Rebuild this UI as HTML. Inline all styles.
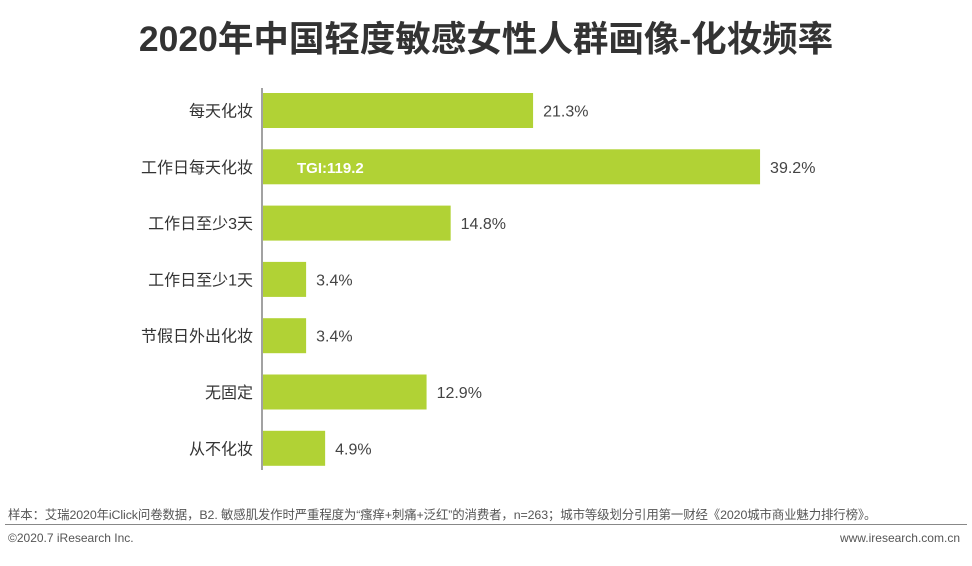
<!DOCTYPE html>
<html><head><meta charset="utf-8"><style>
body{margin:0;width:972px;height:566px;background:#fff;overflow:hidden;font-family:"Liberation Sans","Noto Sans CJK SC",sans-serif;}
#title{position:absolute;left:0;top:11px;width:972px;text-align:center;font-size:35.5px;font-weight:bold;color:#333;}
.note{position:absolute;font-size:11.5px;color:#555;}
</style></head><body>
<div id="title">2020年中国轻度敏感女性人群画像-化妆频率</div>
<svg id="chart" width="972" height="566" style="position:absolute;left:0;top:0"></svg>
<div class="note" style="left:8px;top:505px;font-size:12.4px;letter-spacing:-0.1px">样本：艾瑞2020年iClick问卷数据，B2. 敏感肌发作时严重程度为“瘙痒+刺痛+泛红”的消费者，n=263；城市等级划分引用第一财经《2020城市商业魅力排行榜》。</div>
<div style="position:absolute;left:5px;top:524px;width:962px;height:1px;background:#888"></div>
<div class="note" style="left:8px;top:531px;font-size:12px">©2020.7 iResearch Inc.</div>
<div class="note" style="right:12px;top:531px;font-size:12px">www.iresearch.com.cn</div>
<script>
const categories=["每天化妆","工作日每天化妆","工作日至少3天","工作日至少1天","节假日外出化妆","无固定","从不化妆"];
const values=[21.3,39.2,14.8,3.4,3.4,12.9,4.9];
const valueLabels=["21.3%","39.2%","14.8%","3.4%","3.4%","12.9%","4.9%"];
const tgiLabels=["","TGI:119.2","","","","",""];
const svg=document.getElementById('chart');
const NS='http://www.w3.org/2000/svg';
const x0=263,scale=12.68,y0=110.5,step=56.3,bh=35;
const xs=v=>x0+v*scale, ys=i=>y0+i*step;
function mk(t,a){const e=document.createElementNS(NS,t);for(const k in a)e.setAttribute(k,a[k]);svg.appendChild(e);return e;}
categories.forEach((c,i)=>{
 const r=mk('rect',{x:x0,y:ys(i)-bh/2,width:xs(values[i])-x0,height:bh,fill:'#b1d235'});
 
 
 const l=mk('text',{x:253,y:ys(i)+6,'text-anchor':'end','font-size':16,fill:'#333'});l.textContent=c;
 
 
 const v=mk('text',{x:xs(values[i])+10,y:ys(i)+6,'font-size':16,fill:'#444'});v.textContent=valueLabels[i];
 
 
 if(tgiLabels[i]){const t=mk('text',{x:297,y:ys(i)+6,'font-size':15,'font-weight':'bold',fill:'#fff'});t.textContent=tgiLabels[i];
 
 }
});
const ax=mk('line',{x1:262,y1:88,x2:262,y2:470,stroke:'#444','stroke-width':1});


</script>
</body></html>
